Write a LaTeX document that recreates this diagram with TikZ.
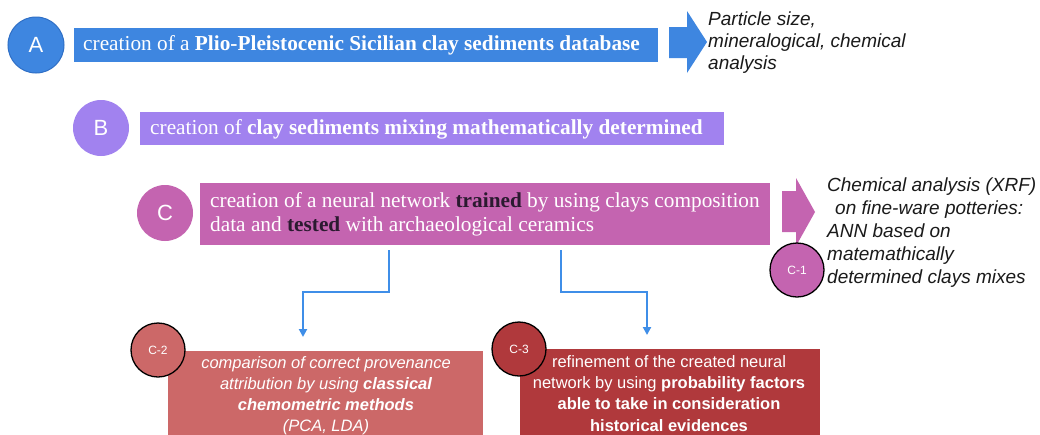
\documentclass[tikz,border=0pt]{standalone}
\usepackage{fontspec}
\setmainfont{Liberation Serif}
\setsansfont{Liberation Sans}
\usetikzlibrary{arrows.meta}
\definecolor{cA}{HTML}{3E86E0}
\definecolor{cAd}{HTML}{2F6FC6}
\definecolor{cB}{HTML}{A182EF}
\definecolor{cC}{HTML}{C464B0}
\definecolor{cCtwo}{HTML}{CC6868}
\definecolor{cCthree}{HTML}{B0393C}
\definecolor{dark}{HTML}{2B1A30}
\definecolor{conncol}{HTML}{3F8EE8}
\definecolor{txt}{HTML}{1A1A1A}
\tikzset{
  bigcirc/.style={circle, minimum size=56pt, inner sep=0pt, text=white, font=\sffamily\fontsize{22}{22}\selectfont},
  smallcirc/.style={circle, minimum size=54pt, inner sep=0pt, draw=black, line width=1.3pt, text=white, font=\sffamily\fontsize{12}{12}\selectfont},
  bar/.style={rectangle, anchor=north west, inner sep=0pt},
  bartext/.style={text=white, font=\fontsize{21.3}{24}\selectfont, anchor=west, align=left, inner sep=0pt},
  conn/.style={draw=conncol, line width=2pt, -{Triangle[length=8pt,width=8pt]}},
  note/.style={text=txt, font=\sffamily\itshape\fontsize{19}{23}\selectfont, align=left, inner sep=0pt},
  lowbox/.style={rectangle, anchor=north west, inner sep=0pt},
  lowtext/.style={text=white, align=center, inner sep=0pt, anchor=north}
}
\begin{document}
\begin{tikzpicture}[x=1pt,y=-1pt]
\clip (0,0) rectangle (1040,434);
\fill[white] (0,0) rectangle (1040,434);

% Row A
\node[bigcirc, fill=cA, draw=cAd, line width=1pt] (circA) at (36,45) {A};
\node[bar, fill=cA, minimum width=584pt, minimum height=34pt] (barA) at (74,28) {};
\node[bartext] (textA) at (83,45) {creation of a \textbf{Plio-Pleistocenic Sicilian clay sediments database}};
\fill[cA] (669,27) -- (687,27) -- (687,11) -- (707,42) -- (687,73) -- (687,58) -- (669,58) -- cycle;
\node[note, anchor=north west, font=\sffamily\itshape\fontsize{19}{22}\selectfont] (noteA) at (708,12) {Particle size,\\mineralogical, chemical\\analysis};

% Row B
\node[bigcirc, fill=cB] (circB) at (101,128) {B};
\node[bar, fill=cB, minimum width=584pt, minimum height=33pt] (barB) at (140,112) {};
\node[bartext] (textB) at (150,129) {creation of \textbf{clay sediments mixing mathematically determined}};

% Row C
\node[bigcirc, fill=cC] (circC) at (165,213) {C};
\node[bar, fill=cC, minimum width=570pt, minimum height=62pt] (barC) at (200,183) {};
\node[bartext] (textC) at (210,214) {creation of a neural network \textcolor{dark}{\textbf{trained}} by using clays composition\\data and \textcolor{dark}{\textbf{tested}} with archaeological ceramics};
\fill[cC] (782,191) -- (796,191) -- (796,178) -- (815,212) -- (796,246) -- (796,232) -- (782,232) -- cycle;
\node[note, anchor=north west] (noteC) at (827,178) {Chemical analysis (XRF)\\\hspace*{8pt}on fine-ware potteries:\\ANN based on\\matemathically\\determined clays mixes};
\node[smallcirc, fill=cC] (circC1) at (797,270) {C-1};

% Lower boxes
\node[lowbox, fill=cCtwo, minimum width=315pt, minimum height=90pt] (boxC2) at (168,351) {};
\node[lowtext, font=\sffamily\itshape\fontsize{16.5}{21}\selectfont] (textC2) at (326,356) {comparison of correct provenance\\attribution by using \textbf{classical}\\\textbf{chemometric methods}\\(PCA, LDA)};
\node[smallcirc, fill=cCtwo] (circC2) at (158,350) {C-2};

\node[lowbox, fill=cCthree, minimum width=300pt, minimum height=90pt] (boxC3) at (520,349) {};
\node[lowtext, font=\sffamily\fontsize{16.5}{21.3}\selectfont] (textC3) at (669,355) {refinement of the created neural\\network by using \textbf{probability factors}\\\textbf{able to take in consideration}\\\textbf{historical evidences}};
\node[smallcirc, fill=cCthree] (circC3) at (519,349) {C-3};

% Connectors
\coordinate (j1) at (389,0);
\coordinate (m1) at (346,292);
\coordinate (j2) at (303,0);
\draw[conn, shorten <=5pt, shorten >=14pt] (barC.south -| j1) |- (m1) -| (boxC2.north -| j2);
\coordinate (j3) at (561,0);
\coordinate (m2) at (604,292);
\coordinate (j4) at (647,0);
\draw[conn, shorten <=5pt, shorten >=14pt] (barC.south -| j3) |- (m2) -| (boxC3.north -| j4);
\end{tikzpicture}
\end{document}
